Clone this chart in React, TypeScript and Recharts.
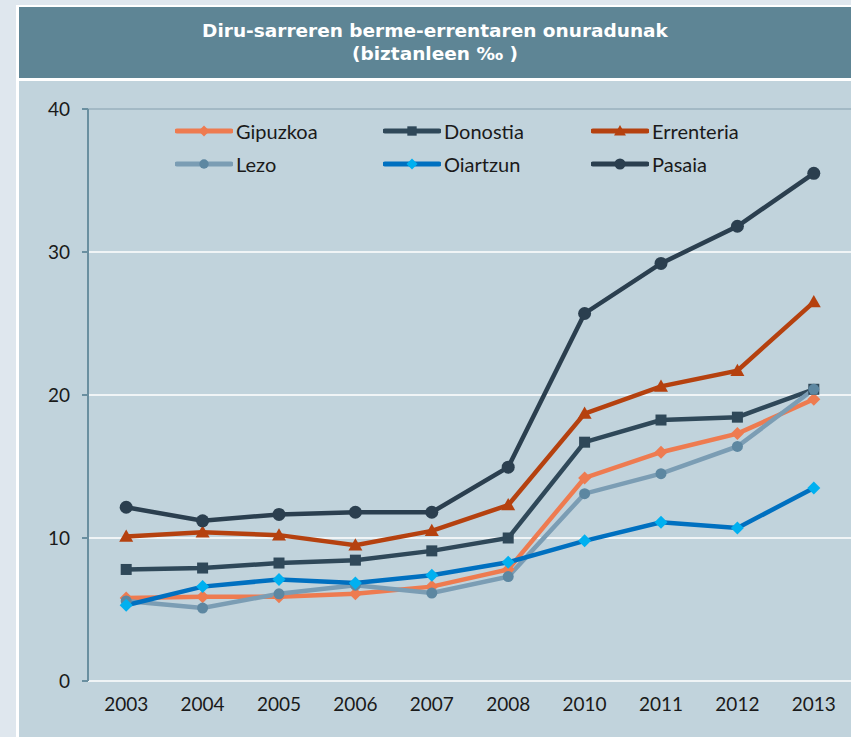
import React from "react";
import { CartesianGrid, Legend, Line, LineChart, ReferenceLine, XAxis, YAxis } from "recharts";

const YEARS = ["2003", "2004", "2005", "2006", "2007", "2008", "2010", "2011", "2012", "2013"];
const Y_TICKS = [0, 10, 20, 30, 40];

const GIPUZKOA = [5.8, 5.9, 5.9, 6.1, 6.6, 7.8, 14.2, 16.0, 17.3, 19.7];
const DONOSTIA = [7.8, 7.9, 8.25, 8.45, 9.1, 10.0, 16.7, 18.25, 18.45, 20.4];
const ERRENTERIA = [10.1, 10.4, 10.2, 9.5, 10.5, 12.3, 18.7, 20.6, 21.7, 26.5];
const LEZO = [5.6, 5.1, 6.1, 6.7, 6.15, 7.3, 13.1, 14.5, 16.4, 20.4];
const OIARTZUN = [5.3, 6.6, 7.1, 6.85, 7.4, 8.3, 9.8, 11.1, 10.7, 13.5];
const PASAIA = [12.15, 11.2, 11.65, 11.8, 11.8, 14.95, 25.7, 29.2, 31.8, 35.5];

type Shape = "diamond" | "square" | "triangle" | "circle";

type Series = {
  key: string;
  values: number[];
  stroke: string;
  fill: string;
  shape: Shape;
  size: number;
};

const SERIES: Series[] = [
  { key: "Gipuzkoa", values: GIPUZKOA, stroke: "#ee7b50", fill: "#ee7b50", shape: "diamond", size: 6.5 },
  { key: "Donostia", values: DONOSTIA, stroke: "#2f4859", fill: "#2f4859", shape: "square", size: 5.5 },
  { key: "Errenteria", values: ERRENTERIA, stroke: "#b5410f", fill: "#b5410f", shape: "triangle", size: 7 },
  { key: "Lezo", values: LEZO, stroke: "#7b9db4", fill: "#5d87a1", shape: "circle", size: 5.5 },
  { key: "Oiartzun", values: OIARTZUN, stroke: "#0070c0", fill: "#00b0f0", shape: "diamond", size: 6.5 },
  { key: "Pasaia", values: PASAIA, stroke: "#2b3f4f", fill: "#2b3f4f", shape: "circle", size: 6.5 },
];

// categories sit in the middle of each band, tick marks fall between them
const data = YEARS.map((year, i) => {
  const row: Record<string, number | string> = { x: i + 0.5, year };
  SERIES.forEach((s) => {
    row[s.key] = s.values[i];
  });
  return row;
});

const BAND_TICKS = YEARS.map((_, i) => i).concat(YEARS.length);
const LABEL_TICKS = YEARS.map((_, i) => i + 0.5);

const FONT = 'Lato, "DejaVu Sans", sans-serif';
const TITLE_FONT = '"DejaVu Sans", sans-serif';

function Marker({ cx, cy, shape, size, fill }: { cx: number; cy: number; shape: Shape; size: number; fill: string }) {
  const s = size;
  if (shape === "diamond") {
    return <polygon points={`${cx},${cy - s} ${cx + s},${cy} ${cx},${cy + s} ${cx - s},${cy}`} fill={fill} />;
  }
  if (shape === "square") {
    return <rect x={cx - s} y={cy - s} width={s * 2} height={s * 2} fill={fill} />;
  }
  if (shape === "triangle") {
    return <polygon points={`${cx},${cy - s} ${cx + s},${cy + s * 0.75} ${cx - s},${cy + s * 0.75}`} fill={fill} />;
  }
  return <circle cx={cx} cy={cy} r={s} fill={fill} />;
}

function LegendContent({ payload }: any) {
  const shown = new Set((payload || []).map((p: any) => p.dataKey));
  const items = SERIES.filter((s) => shown.has(s.key));
  return (
    <div style={{ display: "grid", gridTemplateColumns: "208px 208px 209px", rowGap: 9, fontFamily: FONT, fontSize: 20 }}>
      {items.map((s) => (
        <div key={s.key} style={{ display: "flex", alignItems: "center", height: 24, color: "#1a1a1a" }}>
          <svg width={58} height={20} style={{ marginRight: 3 }}>
            <line x1={2} y1={10} x2={56} y2={10} stroke={s.stroke} strokeWidth={5} strokeLinecap="round" />
            <Marker cx={29} cy={10} shape={s.shape} size={s.size * 0.85} fill={s.fill} />
          </svg>
          <span>{s.key}</span>
        </div>
      ))}
    </div>
  );
}

export default function App() {
  return (
    <div style={{ position: "absolute", left: 0, top: 0, width: 851, height: 737, overflow: "hidden", background: "#dfe7ee" }}>
      <div style={{ position: "absolute", left: 16, top: 5, width: 900, height: 740, background: "#ffffff" }} />
      <div
        style={{
          position: "absolute",
          left: 19,
          top: 7,
          width: 832,
          height: 71,
          background: "#5e8595",
          color: "#ffffff",
          fontFamily: TITLE_FONT,
          fontWeight: "bold",
          fontSize: 18.5,
          lineHeight: "23px",
          textAlign: "center",
          paddingTop: 12,
          boxSizing: "border-box",
        }}
      >
        <div>Diru-sarreren berme-errentaren onuradunak</div>
        <div>(biztanleen ‰ )</div>
      </div>
      <div style={{ position: "absolute", left: 19, top: 81, width: 900, height: 656, background: "#c1d3dc" }}>
        <LineChart width={845} height={656} data={data} margin={{ top: 28, right: 12, bottom: 26, left: 0 }}>
          <CartesianGrid vertical={false} stroke="#ffffff" strokeWidth={1.5} />
          <ReferenceLine y={40} stroke="#a3b9c5" strokeWidth={2} ifOverflow="extendDomain" />
          <XAxis
            xAxisId="bands"
            dataKey="x"
            type="number"
            domain={[0, YEARS.length]}
            ticks={BAND_TICKS}
            tick={false}
            tickSize={6}
            height={0}
            axisLine={{ stroke: "#8a979f", strokeWidth: 2 }}
            tickLine={{ stroke: "#8a979f", strokeWidth: 2 }}
          />
          <XAxis
            xAxisId="labels"
            dataKey="x"
            type="number"
            domain={[0, YEARS.length]}
            ticks={LABEL_TICKS}
            tickFormatter={(v: number) => YEARS[Math.floor(v)]}
            axisLine={false}
            tickLine={false}
            tickSize={6}
            tickMargin={11}
            height={30}
            tick={{ fill: "#1a1a1a", fontSize: 19, fontFamily: FONT }}
          />
          <YAxis
            domain={[0, 40]}
            ticks={Y_TICKS}
            width={69}
            tickSize={6}
            tickMargin={12}
            axisLine={{ stroke: "#6a8fa0", strokeWidth: 2 }}
            tickLine={{ stroke: "#6a8fa0", strokeWidth: 2 }}
            tick={{ fill: "#1a1a1a", fontSize: 19, fontFamily: FONT }}
          />
          <Legend
            layout="horizontal"
            verticalAlign="middle"
            align="center"
            content={<LegendContent />}
            wrapperStyle={{ position: "absolute", left: 156, top: 38, width: 640 }}
          />
          {SERIES.map((s) => (
            <Line
              key={s.key}
              xAxisId="labels"
              dataKey={s.key}
              stroke={s.stroke}
              strokeWidth={4.5}
              dot={(p: any) => (
                <Marker key={`${s.key}-${p.index}`} cx={p.cx} cy={p.cy} shape={s.shape} size={s.size} fill={s.fill} />
              )}
              activeDot={false}
              isAnimationActive={false}
            />
          ))}
        </LineChart>
      </div>
    </div>
  );
}
